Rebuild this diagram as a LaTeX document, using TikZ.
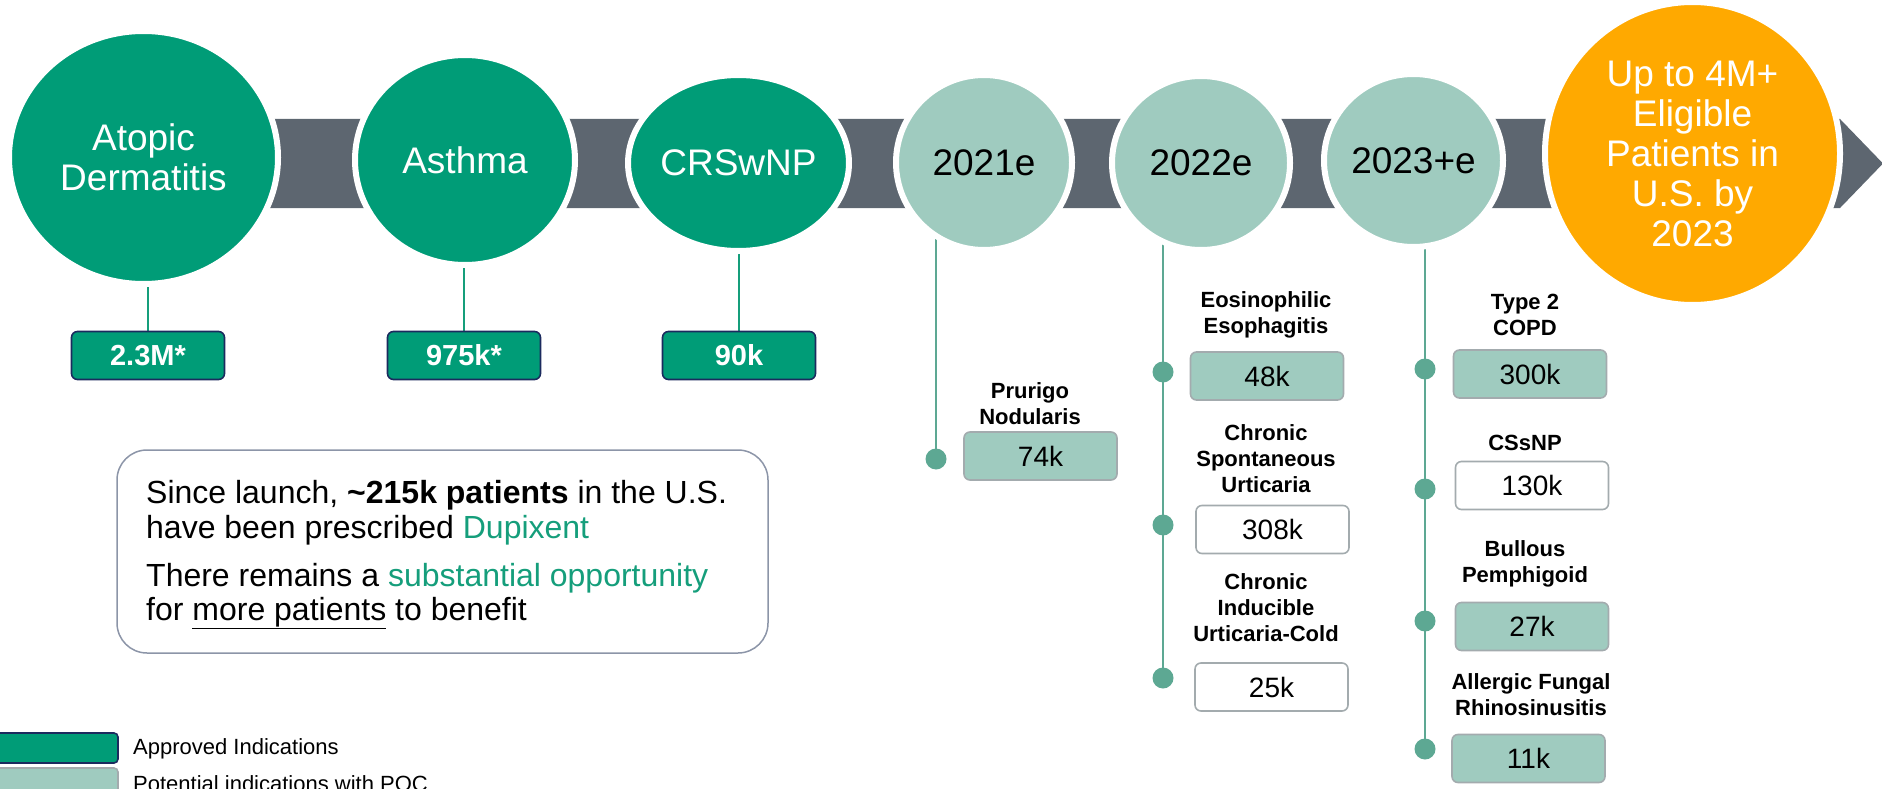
\documentclass[tikz,border=0pt]{standalone}
\usepackage{fontspec}
\setmainfont{Liberation Sans}
\usetikzlibrary{shapes.geometric}
\pgfdeclarelayer{bg}
\pgfsetlayers{bg,main}
\definecolor{apgreen}{HTML}{009C77}
\definecolor{poteal}{HTML}{9FCBBF}
\definecolor{bandgray}{HTML}{5D6670}
\definecolor{goalorange}{HTML}{FFA900}
\definecolor{navyline}{HTML}{1B2A5E}
\definecolor{grayline}{HTML}{A3ABAE}
\definecolor{noteline}{HTML}{8C95A8}
\definecolor{dotteal}{HTML}{5DA893}
\definecolor{txtgreen}{HTML}{159E7B}
\begin{document}
\begin{tikzpicture}[x=1pt,y=-1pt,
  bubble/.style={ellipse,draw=white,line width=6pt,inner sep=0pt,align=center,
    font=\fontsize{37}{40}\selectfont},
  approved/.style={bubble,fill=apgreen,text=white},
  potential/.style={bubble,fill=poteal,text=black},
  valbox/.style={rectangle,rounded corners=6pt,line width=1.6pt,inner sep=0pt,
    minimum width=153pt,minimum height=48pt,font=\fontsize{28}{30}\selectfont},
  apbox/.style={valbox,fill=apgreen,draw=navyline,text=white,
    font=\fontsize{29}{30}\selectfont\bfseries},
  pobox/.style={valbox,fill=poteal,draw=grayline},
  wbox/.style={valbox,fill=white,draw=grayline},
  lbl/.style={align=center,inner sep=0pt,font=\fontsize{22}{26}\selectfont\bfseries},
  dot/.style={circle,fill=dotteal,inner sep=0pt,minimum size=21pt},
  glink/.style={draw=txtgreen,line width=2pt},
  llink/.style={draw=dotteal,line width=2pt},
  bodytxt/.style={anchor=base west,inner sep=0pt,font=\fontsize{32}{35}\selectfont},
  legtxt/.style={anchor=west,inner sep=0pt,font=\fontsize{22}{24}\selectfont}]
\useasboundingbox (0,0) rectangle (1882,789);

% timeline band with arrow head
\fill[bandgray] (143,119) -- (1840,119) -- (1883,163.5) -- (1840,208) -- (143,208) -- cycle;

% milestones
\node[approved,minimum width=269pt,minimum height=253pt] (ad) at (143.5,157.5) {Atopic\\Dermatitis};
\node[approved,minimum width=220pt,minimum height=210pt] (as) at (465,160) {Asthma};
\node[approved,minimum width=183pt,minimum height=176pt] (cr) at (738.5,163) {CRSwNP};
\node[potential,minimum width=176pt,minimum height=175pt] (y21) at (984,162.5) {2021e};
\node[potential,minimum width=178pt,minimum height=174pt] (y22) at (1201,163) {2022e};
\node[potential,minimum width=179pt,minimum height=173pt] (y23) at (1413.5,160.5) {2023+e};
\node[bubble,fill=goalorange,text=white,minimum width=295pt,minimum height=303pt] (goal) at (1692.5,153.5)
  {Up to 4M+\\Eligible\\Patients in\\U.S. by\\2023};

% approved patient counts
\node[apbox] (adv) at (148,355.5) {2.3M*};
\node[apbox] (asv) at (464,355.5) {975k*};
\node[apbox] (crv) at (739,355.5) {90k};

% 2021e
\node[dot] (d21) at (936,459) {};
\node[lbl] (pn) at (1030,403.5) {Prurigo\\Nodularis};
\node[pobox] (pnv) at (1040.5,456) {74k};

% 2022e
\node[dot] (d22a) at (1163,372) {};
\node[dot] (d22b) at (1163,525) {};
\node[dot] (d22c) at (1163,678) {};
\node[lbl] (eoe) at (1266,315) {Eosinophilic\\Esophagitis};
\node[pobox] (eoev) at (1267,376) {48k};
\node[lbl] (csu) at (1266,458.5) {Chronic\\Spontaneous\\Urticaria};
\node[wbox] (csuv) at (1272.5,529.5) {308k};
\node[lbl] (ciu) at (1266,608) {Chronic\\Inducible\\Urticaria-Cold};
\node[wbox] (ciuv) at (1271.5,687) {25k};

% 2023+e
\node[dot] (d23a) at (1425,369) {};
\node[dot] (d23b) at (1425,489) {};
\node[dot] (d23c) at (1425,621) {};
\node[dot] (d23d) at (1425,749) {};
\node[lbl] (copd) at (1525,315) {Type 2\\COPD};
\node[pobox] (copdv) at (1530,374) {300k};
\node[lbl] (cssnp) at (1525,443) {CSsNP};
\node[wbox] (cssnpv) at (1532,485.5) {130k};
\node[lbl] (bp) at (1525,563.5) {Bullous\\Pemphigoid};
\node[pobox] (bpv) at (1532,626.5) {27k};
\node[lbl] (afr) at (1531,694.5) {Allergic Fungal\\Rhinosinusitis};
\node[pobox] (afrv) at (1528.5,758.5) {11k};

% stems behind the milestones
\begin{pgfonlayer}{bg}
\draw[glink] (adv.north) -- (adv.north |- ad.center);
\draw[glink] (asv.north) -- (asv.north |- as.center);
\draw[glink] (crv.north) -- (crv.north |- cr.center);
\draw[llink] (d21.center) -- (d21.center |- y21.center);
\draw[llink] (d22c.center) -- (d22c.center |- y22.center);
\draw[llink] (d23d.center) -- (d23d.center |- y23.center);
\end{pgfonlayer}

% note
\node[draw=noteline,line width=1.5pt,rounded corners=30pt,minimum width=651pt,minimum height=203pt,inner sep=0pt]
  (note) at (442.5,551.5) {};
\node[bodytxt] (n1) at (146,503) {Since launch, \textbf{\textasciitilde215k patients} in the U.S.};
\node[bodytxt] (n2) at (146,538) {have been prescribed \textcolor{txtgreen}{Dupixent}};
\node[bodytxt] (n3) at (146,586) {There remains a \textcolor{txtgreen}{substantial opportunity}};
\node[bodytxt] (n4) at (146,620) {for \underline{more patients} to benefit};

% legend
\begin{scope}
\clip (0,0) rectangle (1882,789);
\draw[fill=apgreen,draw=navyline,line width=1.6pt,rounded corners=4pt] (-10,733) rectangle (118,763);
\node[legtxt] (lg1) at (133,749) {Approved Indications};
\draw[fill=poteal,draw=grayline,line width=1.6pt,rounded corners=4pt] (-10,768) rectangle (118,800);
\node[legtxt] (lg2) at (133,784) {Potential indications with POC};
\end{scope}
\end{tikzpicture}
\end{document}
